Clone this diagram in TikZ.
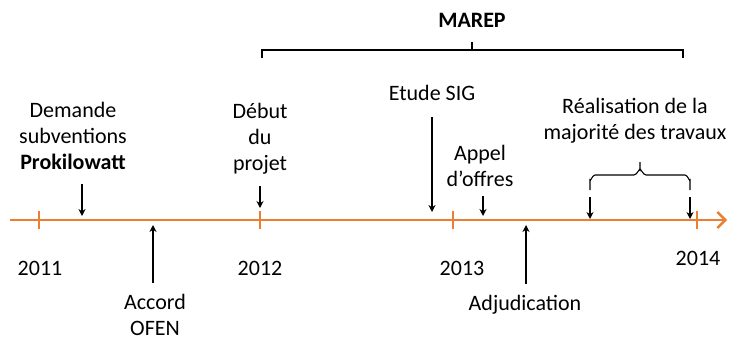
\documentclass[tikz,border=0pt]{standalone}
\usepackage{fontspec}
\setmainfont{Carlito}
\usetikzlibrary{arrows.meta}
\definecolor{axisorange}{HTML}{ED7D31}
\begin{document}
\begin{tikzpicture}[x=1pt,y=-1pt,
  lbl/.style={font=\fontsize{22}{26}\selectfont, align=center, inner sep=0pt},
  evarrow/.style={draw=black, line width=1.6pt, -{Stealth[length=7pt,width=7pt]}},
  axisline/.style={draw=axisorange, line width=2.8pt},
  ticksty/.style={draw=axisorange, line width=2.2pt},
  bracesty/.style={draw=black, line width=1.1pt}]
\useasboundingbox (0,0) rectangle (733,340);
% axis
\coordinate (a0) at (10,220);
\coordinate (a1) at (727,220);
\draw[axisline, -{Straight Barb[length=8pt,width=16pt,line width=2.4pt]}] (a0) -- (a1);
% ticks and years
\foreach \n/\x in {t1/39,t2/260,t3/453,t4/697}{
  \coordinate (\n u) at (\x,211);
  \coordinate (\n d) at (\x,229);
  \draw[ticksty] (\n u) -- (\n d);
}
\node[lbl] (y1) at (40,268) {2011};
\node[lbl] (y2) at (260,268) {2012};
\node[lbl] (y3) at (462,268) {2013};
\node[lbl] (y4) at (698,258) {2014};
% Demande
\node[lbl] (dem) at (73,136) {Demande\\subventions\\\textbf{Prokilowatt}};
\coordinate (demS) at (82,184);
\coordinate (demE) at (82,216);
\draw[evarrow] (demS) -- (demE);
% Accord OFEN
\node[lbl] (acc) at (155,315) {Accord\\OFEN};
\coordinate (accS) at (153,283);
\coordinate (accE) at (153,225);
\draw[evarrow] (accS) -- (accE);
% Debut
\node[lbl] (deb) at (260,139) {Début\\du\\projet};
\coordinate (debS) at (260,186);
\coordinate (debE) at (260,208);
\draw[evarrow] (debS) -- (debE);
% Etude SIG
\node[lbl] (sig) at (432,93) {Etude SIG};
\coordinate (sigS) at (432,117);
\coordinate (sigE) at (432,212);
\draw[evarrow] (sigS) -- (sigE);
% Appel d'offres
\node[lbl] (app) at (480,166) {Appel\\d’offres};
\coordinate (appS) at (483,196);
\coordinate (appE) at (483,216);
\draw[evarrow] (appS) -- (appE);
% Adjudication
\node[lbl] (adj) at (525,305) {Adjudication};
\coordinate (adjS) at (526,284);
\coordinate (adjE) at (526,225);
\draw[evarrow] (adjS) -- (adjE);
% Realisation
\node[lbl] (rea) at (635,121) {Réalisation de la\\majorité des travaux};
\coordinate (r1S) at (590,197);
\coordinate (r1E) at (590,219);
\coordinate (r2S) at (690,197);
\coordinate (r2E) at (690,219);
\draw[evarrow] (r1S) -- (r1E);
\draw[evarrow] (r2S) -- (r2E);
% small brace
\coordinate (bL) at (590,190);
\coordinate (bR) at (690,190);
\coordinate (bM) at (640,162);
\draw[bracesty] (bL) -- (590,180) to[out=-90,in=180] (595,175) -- (634,175)
  to[out=0,in=90] (640,170) -- (bM);
\draw[bracesty] (bR) -- (690,180) to[out=-90,in=0] (685,175) -- (646,175)
  to[out=180,in=90] (640,170);
% MAREP bracket
\node[lbl, font=\fontsize{22}{26}\selectfont\bfseries] (marep) at (472,20) {MAREP};
\coordinate (mL) at (262,58);
\coordinate (mR) at (683,58);
\coordinate (mT) at (472,42);
\draw[bracesty] (mL) -- (262,50) -- (683,50) -- (mR);
\draw[bracesty] (472,50) -- (mT);
\end{tikzpicture}
\end{document}
